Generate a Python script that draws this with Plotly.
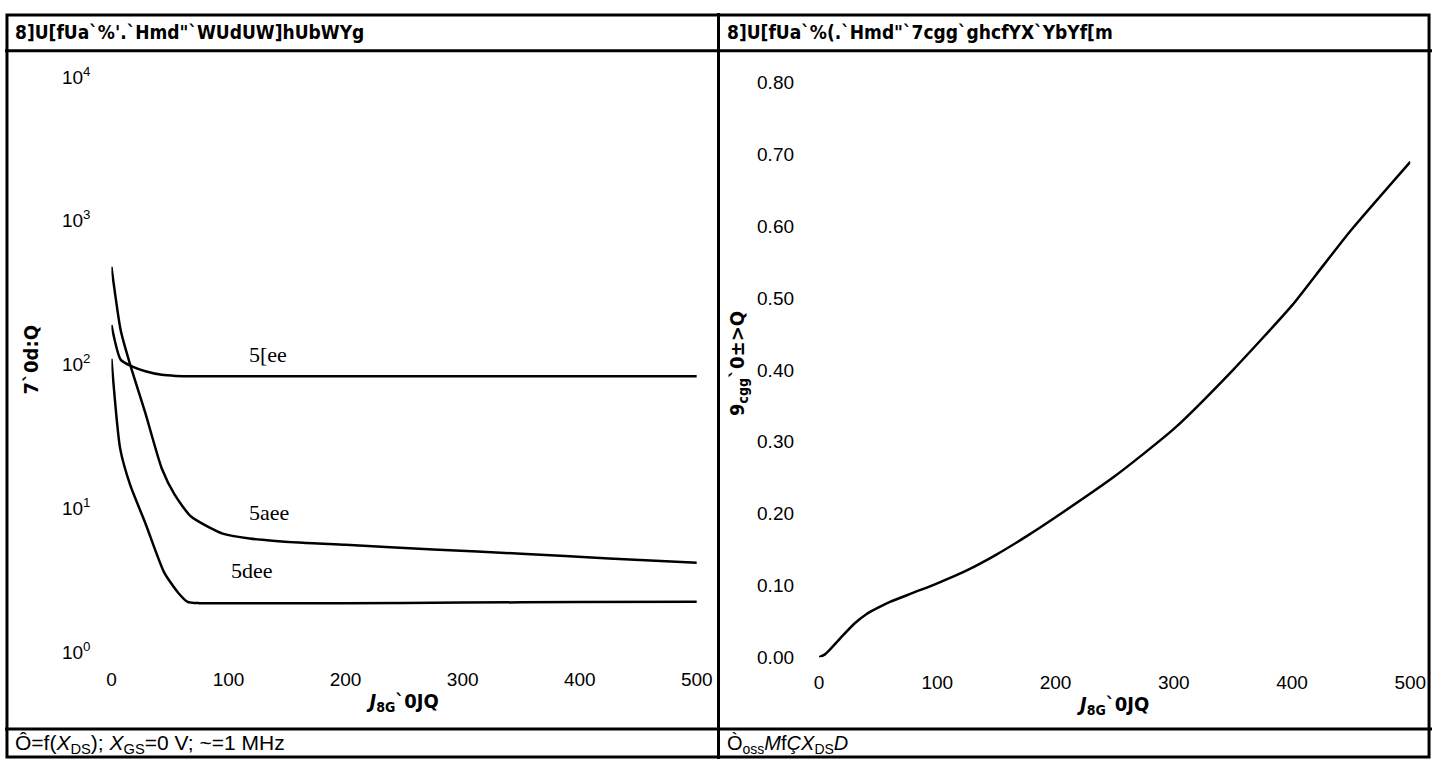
import plotly.graph_objects as go

W, H = 1448, 770

# Left panel: capacitances vs drain-source voltage (log scale)
v_ciss = [0, 8, 18, 29, 43, 55, 70, 100, 200, 300, 400, 500]
c_ciss = [189, 108, 97, 90, 85, 83.5, 83, 83, 83, 83, 83, 83]

v_coss = [0, 8, 16, 29, 43, 54, 68, 95, 118, 160, 200, 275, 350, 425, 500]
c_coss = [479, 172, 100, 46, 19, 12.5, 8.8, 6.7, 6.2, 5.8, 5.6, 5.2, 4.85, 4.5, 4.2]

v_crss = [0, 7.5, 16, 29, 45, 57, 65, 75, 100, 200, 300, 400, 500]
c_crss = [110, 26, 14.6, 7.9, 3.6, 2.6, 2.25, 2.2, 2.2, 2.2, 2.22, 2.24, 2.25]

cap_ticks = [1, 10, 100, 1000, 10000]
cap_ticktext = ["10<sup>0</sup>", "10<sup>1</sup>", "10<sup>2</sup>", "10<sup>3</sup>", "10<sup>4</sup>"]

# Right panel: stored energy vs drain-source voltage
v_e = [0, 5, 10, 20, 30, 40, 50, 60, 80, 100, 125, 150, 175, 200, 250, 300, 350, 400, 420, 450, 500]
e_oss = [0.0, 0.004, 0.012, 0.030, 0.047, 0.060, 0.069, 0.077, 0.090, 0.103, 0.121, 0.143, 0.168, 0.195,
         0.252, 0.318, 0.400, 0.490, 0.532, 0.595, 0.69]

x_ticks = [0, 100, 200, 300, 400, 500]
e_ticks = [0.0, 0.1, 0.2, 0.3, 0.4, 0.5, 0.6, 0.7, 0.8]

title_left = "8]U[fUa`%'.`Hmd\"`WUdUW]hUbWYg"
title_right = "8]U[fUa`%(.`Hmd\"`7cgg`ghcfYX`YbYf[m"
ylabel_left = "<b>7`0d:Q</b>"
ylabel_right = "<b>9<sub>cgg</sub>`0±>Q</b>"
xlabel = "<b><i>J</i><sub>8G</sub>`0JQ</b>"
note_left = "Ô=f(<i>X</i><sub>DS</sub>); <i>X</i><sub>GS</sub>=0 V; ~=1 MHz"
note_right = "Ò<sub>oss</sub><i>M</i>f<i>Ç</i><i>X</i><sub>DS</sub><i>D</i>"
curve_labels = [("5[ee", 116, 2.074), ("5aee", 116, 0.976), ("5dee", 100, 0.572)]

NARROW = "Liberation Sans Narrow, DejaVu Sans Condensed, Arial Narrow, sans-serif"
SANS = "Liberation Sans, Arial, sans-serif"
SERIF = "Liberation Serif, Times New Roman, serif"


def px(x):
    return x / W


def py(y):
    return 1 - y / H


line_style = dict(color="black", width=2.5, shape="spline", smoothing=0.6)

fig = go.Figure()
for xs, ys in [(v_ciss, c_ciss), (v_coss, c_coss), (v_crss, c_crss)]:
    fig.add_trace(go.Scatter(x=xs, y=ys, mode="lines", line=line_style,
                             xaxis="x", yaxis="y", showlegend=False, hoverinfo="skip"))
fig.add_trace(go.Scatter(x=v_e, y=e_oss, mode="lines", line=line_style,
                         xaxis="x2", yaxis="y2", showlegend=False, hoverinfo="skip"))

tick_font = dict(family=SANS, size=19, color="black")
axis_common = dict(showgrid=False, zeroline=False, showline=False, ticks="", tickfont=tick_font)
xtitle_font = dict(family=NARROW, size=20, color="black")

fig.update_layout(
    width=W, height=H,
    margin=dict(l=0, r=0, t=0, b=0),
    paper_bgcolor="white", plot_bgcolor="white",
    xaxis=dict(domain=[px(108), px(702)], range=[0, 500], tickvals=x_ticks,
               ticklabelstandoff=14, anchor="y",
               title=dict(text=xlabel, standoff=4, font=xtitle_font),
               **axis_common),
    yaxis=dict(domain=[py(660), py(66)], type="log", range=[0, 4], tickvals=cap_ticks,
               ticktext=cap_ticktext, ticklabelstandoff=20, anchor="x", **axis_common),
    xaxis2=dict(domain=[px(826), px(1426)], range=[0, 500], tickvals=x_ticks,
                ticklabelstandoff=12, anchor="y2",
                title=dict(text=xlabel, standoff=4, font=xtitle_font),
                **axis_common),
    yaxis2=dict(domain=[py(665), py(72)], range=[0, 0.8], tickvals=e_ticks,
                tickformat=".2f", ticklabelstandoff=24, anchor="x2", **axis_common),
)

border = dict(color="black", width=3)
shapes = [
    dict(type="rect", xref="paper", yref="paper", x0=px(2), x1=px(1445), y0=py(768), y1=py(2), line=border),
    dict(type="line", xref="paper", yref="paper", x0=px(724), x1=px(724), y0=0, y1=1, line=border),
    dict(type="line", xref="paper", yref="paper", x0=0, x1=1, y0=py(39), y1=py(39), line=border),
    dict(type="line", xref="paper", yref="paper", x0=0, x1=1, y0=py(739), y1=py(739), line=border),
]
fig.update_layout(shapes=shapes)

title_font = dict(family=NARROW, size=19, color="black")
annos = [
    dict(text="<b>" + title_left + "</b>", x=px(8), y=py(20), xanchor="left", yanchor="middle", font=title_font),
    dict(text="<b>" + title_right + "</b>", x=px(731), y=py(20), xanchor="left", yanchor="middle", font=title_font),
    dict(text=note_left, x=px(8), y=py(755), xanchor="left", yanchor="middle",
         font=dict(family=SANS, size=21, color="black")),
    dict(text=note_right, x=px(731), y=py(755), xanchor="left", yanchor="middle",
         font=dict(family=SANS, size=20, color="black")),
    dict(text=ylabel_left, x=px(26), y=py(358), xanchor="center", yanchor="middle", textangle=-90,
         font=dict(family=NARROW, size=20, color="black")),
    dict(text=ylabel_right, x=px(743), y=py(362), xanchor="center", yanchor="middle", textangle=-90,
         font=dict(family=NARROW, size=20, color="black")),
]
for a in annos:
    a.update(xref="paper", yref="paper", showarrow=False)
for text, vx, ly in curve_labels:
    annos.append(dict(text=text, x=vx, y=ly, xref="x", yref="y", showarrow=False,
                      xanchor="left", yanchor="middle",
                      font=dict(family=SERIF, size=22, color="black")))
fig.update_layout(annotations=annos)

fig.write_html("out.html")
